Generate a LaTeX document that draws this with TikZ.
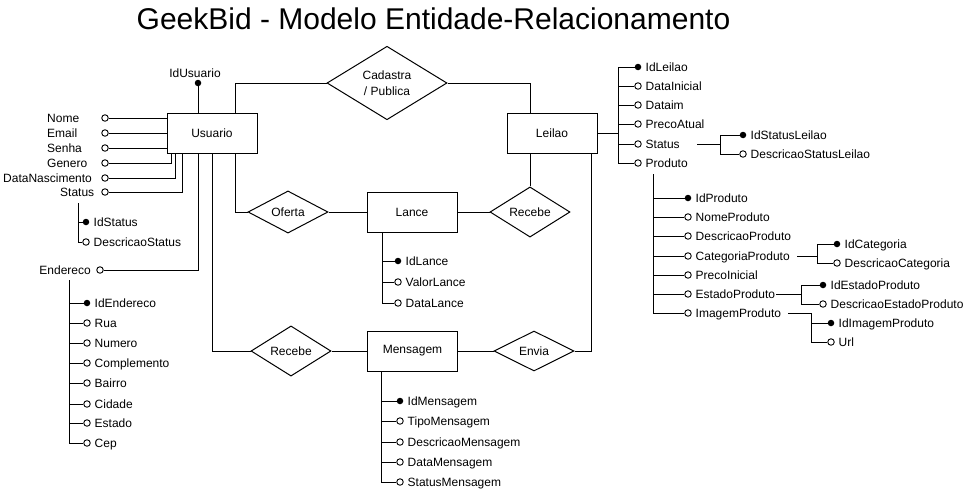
\documentclass[tikz,border=0pt]{standalone}
\usepackage{fontspec}
\setmainfont{Liberation Sans}
\usetikzlibrary{shapes.geometric,calc}
\tikzset{
  ent/.style={draw, line width=1pt, minimum width=90pt, minimum height=40pt, inner sep=0pt, font=\fontsize{12}{14}\selectfont},
  rel/.style={draw, diamond, line width=1pt, minimum width=80pt, minimum height=40pt, inner sep=0pt, font=\fontsize{12}{16}\selectfont, align=center},
  pk/.style={circle, fill=black, minimum size=6.5pt, inner sep=0pt},
  ak/.style={circle, draw, fill=white, line width=0.9pt, minimum size=6.5pt, inner sep=0pt},
  lbl/.style={font=\fontsize{12}{14}\selectfont, inner sep=0pt, text height=8.6pt, text depth=0pt},
  conn/.style={line width=1pt},
}
\newcommand{\erattr}[5]{%
  \node[#4] (#1) at (#2,#3) {};
  \node[lbl, anchor=west] (#1t) at ([xshift=7.5pt]#1.center) {#5};}
\begin{document}
\begin{tikzpicture}[x=1pt,y=-1pt]
\useasboundingbox (0,0) rectangle (973,493);

% title
\node[font=\fontsize{30}{34}\selectfont, inner sep=0pt, text height=21.5pt, text depth=0pt] (title) at (433.5,19) {GeekBid - Modelo Entidade-Relacionamento};

% entities
\node[ent] (usuario) at (212,133) {Usuario};
\node[ent] (leilao) at (552,133) {Leilao};
\node[ent] (lance) at (412,212) {Lance};
\node[ent] (mensagem) at (412.5,351) {Mensagem};

% relationships
\node[rel, minimum width=120pt, minimum height=60pt] (cadastra) at (387,83) {Cadastra\\/ Publica};
\node[rel] (oferta) at (288,212) {Oferta};
\node[rel] (recebeL) at (530,212) {Recebe};
\node[rel] (recebeM) at (291,351) {Recebe};
\node[rel] (envia) at (534,351) {Envia};

% relationship connectors
\draw[conn] ([xshift=23pt]usuario.north) |- (cadastra.west);
\draw[conn] (cadastra.east) -| ([xshift=-22pt]leilao.north);
\draw[conn] ([xshift=23pt]usuario.south) |- (oferta.west);
\draw[conn] (oferta.east) -- (lance.west);
\draw[conn] (lance.east) -- (recebeL.west);
\draw[conn] (recebeL.north) -- (recebeL.north |- leilao.south);
\draw[conn] (usuario.south) |- (recebeM.west);
\draw[conn] (recebeM.east) -- (mensagem.west);
\draw[conn] (mensagem.east) -- (envia.west);
\draw[conn] (envia.east) -| ([xshift=39pt]leilao.south);

% ---------- Usuario attributes ----------
\node[pk] (idUsuario) at (198,83) {};
\node[lbl] (idUsuariot) at (195,73) {IdUsuario};
\draw[conn] (idUsuario) -- (idUsuario |- usuario.north);

\node[ak] (nome) at (105,118) {};
\node[ak] (email) at (105,133) {};
\node[ak] (senha) at (105,148) {};
\node[ak] (genero) at (105,163) {};
\node[ak] (datanasc) at (105,178) {};
\node[ak] (status) at (105,192) {};
\node[lbl, anchor=west] (nomet) at (47,118) {Nome};
\node[lbl, anchor=west] (emailt) at (47,133) {Email};
\node[lbl, anchor=west] (senhat) at (47,148) {Senha};
\node[lbl, anchor=west] (generot) at (47,163) {Genero};
\node[lbl, anchor=west] (datanasct) at (3,178) {DataNascimento};
\node[lbl, anchor=west] (statust) at (60,192) {Status};
\draw[conn] (nome) -- (nome -| usuario.west);
\draw[conn] (email) -- (email -| usuario.west);
\draw[conn] (senha) -- (senha -| usuario.west);
\draw[conn] (genero) -| ([xshift=5pt]usuario.south west);
\draw[conn] (datanasc) -| ([xshift=9pt]usuario.south west);
\draw[conn] (status) -| ([xshift=16pt]usuario.south west);

% Status sub-attributes
\coordinate (sv) at (78,203);
\erattr{idStatus}{86}{222}{pk}{IdStatus}
\erattr{descStatus}{86}{242}{ak}{DescricaoStatus}
\draw[conn] (sv) |- (descStatus);
\draw[conn] (idStatus) -- (idStatus -| sv);

% Endereco
\node[ak] (endereco) at (100,270) {};
\node[lbl, anchor=east] (enderecot) at (91,270) {Endereco};
\draw[conn] (endereco) -| ([xshift=-14pt]usuario.south);
\coordinate (ev) at (69,280);
\erattr{idEnd}{87}{303}{pk}{IdEndereco}
\erattr{rua}{87}{323}{ak}{Rua}
\erattr{numero}{87}{343}{ak}{Numero}
\erattr{compl}{87}{363}{ak}{Complemento}
\erattr{bairro}{87}{383}{ak}{Bairro}
\erattr{cidade}{87}{404}{ak}{Cidade}
\erattr{estado}{87}{423}{ak}{Estado}
\erattr{cep}{87}{443}{ak}{Cep}
\draw[conn] (ev) |- (cep);
\foreach \a in {idEnd,rua,numero,compl,bairro,cidade,estado}
  \draw[conn] (\a) -- (\a -| ev);

% ---------- Lance attributes ----------
\coordinate (lav) at ([xshift=-30pt]lance.south);
\erattr{idLance}{398}{261}{pk}{IdLance}
\erattr{valorLance}{398}{282}{ak}{ValorLance}
\erattr{dataLance}{398}{303}{ak}{DataLance}
\draw[conn] (lav) |- (dataLance);
\draw[conn] (idLance) -- (idLance -| lav);
\draw[conn] (valorLance) -- (valorLance -| lav);

% ---------- Mensagem attributes ----------
\coordinate (mv) at (381,371);
\erattr{idMsg}{400}{401}{pk}{IdMensagem}
\erattr{tipoMsg}{400}{421}{ak}{TipoMensagem}
\erattr{descMsg}{400}{442}{ak}{DescricaoMensagem}
\erattr{dataMsg}{400}{462}{ak}{DataMensagem}
\erattr{statusMsg}{400}{482}{ak}{StatusMensagem}
\draw[conn] (mv) |- (statusMsg);
\foreach \a in {idMsg,tipoMsg,descMsg,dataMsg}
  \draw[conn] (\a) -- (\a -| mv);

% ---------- Leilao attributes ----------
\coordinate (lj) at (618,133);
\coordinate (lv) at (618,67);
\draw[conn] (leilao.east) -- (lj);
\erattr{idLeilao}{638}{67}{pk}{IdLeilao}
\erattr{dataIni}{638}{86}{ak}{DataInicial}
\erattr{dataFim}{638}{105}{ak}{Dataim}
\erattr{preco}{638}{124}{ak}{PrecoAtual}
\erattr{statusL}{638}{144}{ak}{Status}
\erattr{produto}{638}{163}{ak}{Produto}
\draw[conn] (idLeilao) -| (lv) |- (produto);
\foreach \a in {dataIni,dataFim,preco,statusL}
  \draw[conn] (\a) -- (\a -| lv);

% Status (Leilao) sub-attributes
\coordinate (slh) at (697,144);
\coordinate (slv) at (720,144);
\erattr{idStatusL}{743}{135}{pk}{IdStatusLeilao}
\erattr{descStatusL}{743}{154}{ak}{DescricaoStatusLeilao}
\draw[conn] (slh) -- (slv);
\draw[conn] (idStatusL) -| (slv) |- (descStatusL);

% Produto sub-attributes
\coordinate (pv) at (653,174);
\erattr{idProd}{688}{198}{pk}{IdProduto}
\erattr{nomeProd}{688}{217}{ak}{NomeProduto}
\erattr{descProd}{688}{236}{ak}{DescricaoProduto}
\erattr{catProd}{688}{256}{ak}{CategoriaProduto}
\erattr{precoIni}{688}{275}{ak}{PrecoInicial}
\erattr{estadoProd}{688}{294}{ak}{EstadoProduto}
\erattr{imgProd}{688}{313}{ak}{ImagemProduto}
\draw[conn] (pv) |- (imgProd);
\foreach \a in {idProd,nomeProd,descProd,catProd,precoIni,estadoProd}
  \draw[conn] (\a) -- (\a -| pv);

% Categoria sub-attributes
\coordinate (cph) at (797,256);
\coordinate (cpv) at (817,256);
\erattr{idCat}{837}{244}{pk}{IdCategoria}
\erattr{descCat}{837}{263}{ak}{DescricaoCategoria}
\draw[conn] (cph) -- (cpv);
\draw[conn] (idCat) -| (cpv) |- (descCat);

% EstadoProduto sub-attributes
\coordinate (eph) at (776,294);
\coordinate (epv) at (801,294);
\erattr{idEstado}{823}{285}{pk}{IdEstadoProduto}
\erattr{descEstado}{823}{304}{ak}{DescricaoEstadoProduto}
\draw[conn] (eph) -- (epv);
\draw[conn] (idEstado) -| (epv) |- (descEstado);

% ImagemProduto sub-attributes
\coordinate (iph) at (788,313);
\coordinate (ipv) at (811,313);
\erattr{idImg}{831}{323}{pk}{IdImagemProduto}
\erattr{url}{831}{342}{ak}{Url}
\draw[conn] (iph) -- (ipv) |- (url);
\draw[conn] (idImg) -- (idImg -| ipv);
\end{tikzpicture}
\end{document}
